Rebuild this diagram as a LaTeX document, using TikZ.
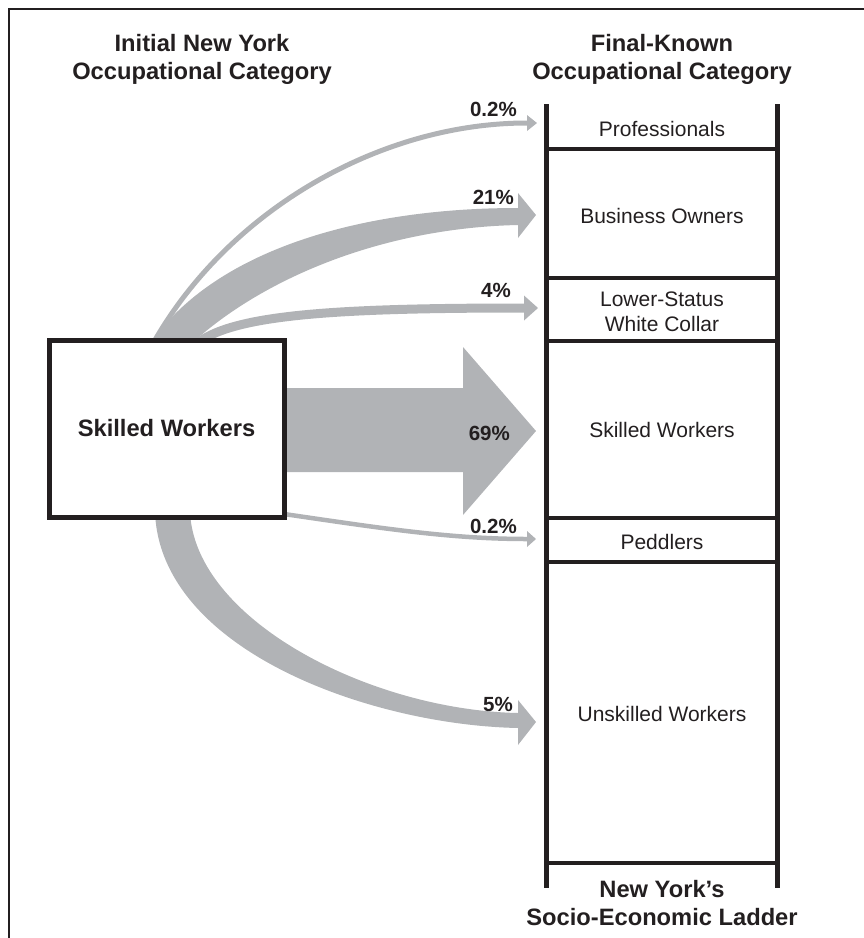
\documentclass[tikz,border=0pt]{standalone}
\usepackage{fontspec}
\setmainfont{Liberation Sans}
\usetikzlibrary{arrows.meta}

\definecolor{flowgray}{RGB}{177,179,182}
\definecolor{inkblack}{RGB}{35,31,32}

\tikzset{
  heading/.style={font=\bfseries\fontsize{23.7}{28}\selectfont, text=inkblack, align=center, inner sep=0pt},
  rung label/.style={font=\fontsize{21}{25}\selectfont, text=inkblack, align=center, inner sep=0pt},
  pct/.style={font=\bfseries\fontsize{20.5}{24}\selectfont, text=inkblack, inner sep=0pt, anchor=base east},
  thin flow/.style={draw=flowgray, line width=#1},
}

\begin{document}
\begin{tikzpicture}[x=1pt,y=-1pt]
\useasboundingbox (0,0) rectangle (864,938);

% frame
\draw[inkblack, line width=2.5pt] (9,938) -- (9,9) -- (864,9);

% headings
\node[heading] (head_init) at (202,59) {Initial New York\\Occupational Category};
\node[heading] (head_final) at (662,59) {Final-Known\\Occupational Category};
\node[heading] (head_ladder) at (662,903) {New York’s\\Socio-Economic Ladder};

% start and end points of the flows
\coordinate (src_prof) at (155,340);
\coordinate (src_white) at (195,345);
\coordinate (src_peddlers) at (284,514);
\coordinate (to_prof) at (537,123);
\coordinate (to_white) at (538,308);
\coordinate (to_peddlers) at (536,539);
\coordinate (tip_owners) at (536,215);
\coordinate (tip_skilled) at (536,431);
\coordinate (tip_unskilled) at (536,722);

% 21% band
\fill[flowgray] (155,337) .. controls (220,250) and (360,208) .. (518,208)
  -- (518,193) -- (tip_owners) -- (518,238) -- (518,225)
  .. controls (380,228) and (260,280) .. (190,345) -- (152,345) -- cycle;
% thin flows
\draw[thin flow=5pt, -{Triangle[length=10pt,width=16pt,line width=0pt]}]
  (src_prof) .. controls (230,210) and (380,123) .. (to_prof);
\draw[thin flow=9pt, -{Triangle[length=14pt,width=25pt,line width=0pt]}]
  (src_white) .. controls (230,315) and (330,308) .. (to_white);
\draw[thin flow=4.5pt, -{Triangle[length=9pt,width=16pt,line width=0pt]}]
  (src_peddlers) .. controls (380,528) and (450,539) .. (to_peddlers);
% 69% arrow
\fill[flowgray] (280,388) -- (463,388) -- (463,347) -- (tip_skilled)
  -- (463,515) -- (463,472) -- (280,472) -- cycle;
% 5% band
\fill[flowgray] (155,512) .. controls (160,650) and (370,725) .. (518,728)
  -- (518,745) -- (tip_unskilled) -- (518,700) -- (518,713)
  .. controls (370,710) and (195,620) .. (190,512) -- cycle;

% initial category
\node[draw=inkblack, fill=white, line width=5pt, minimum width=235pt, minimum height=177pt,
  font=\bfseries\fontsize{23.7}{28}\selectfont, text=inkblack] (init) at (166.5,428.5) {Skilled Workers};

% ladder
\foreach \y in {149,278,341,518,562,863}
  \draw[inkblack, line width=4pt] (546,\y) -- (777,\y);
\draw[inkblack, line width=5pt] (546,104) -- (546,888);
\draw[inkblack, line width=5pt] (777,104) -- (777,888);

\node[rung label, anchor=base] (prof) at (662,136) {Professionals};
\node[rung label, anchor=base] (owners) at (662,223) {Business Owners};
\node[rung label] (white) at (662,312) {Lower-Status\\White Collar};
\node[rung label, anchor=base] (skilled) at (662,437) {Skilled Workers};
\node[rung label, anchor=base] (peddlers) at (662,549) {Peddlers};
\node[rung label, anchor=base] (unskilled) at (662,721) {Unskilled Workers};

% shares
\node[pct] (pct_prof) at (517,116) {0.2\%};
\node[pct] (pct_owners) at (514,204) {21\%};
\node[pct] (pct_white) at (511,297) {4\%};
\node[pct] (pct_skilled) at (510,440) {69\%};
\node[pct] (pct_peddlers) at (517,533) {0.2\%};
\node[pct] (pct_unskilled) at (513,711) {5\%};
\end{tikzpicture}
\end{document}
